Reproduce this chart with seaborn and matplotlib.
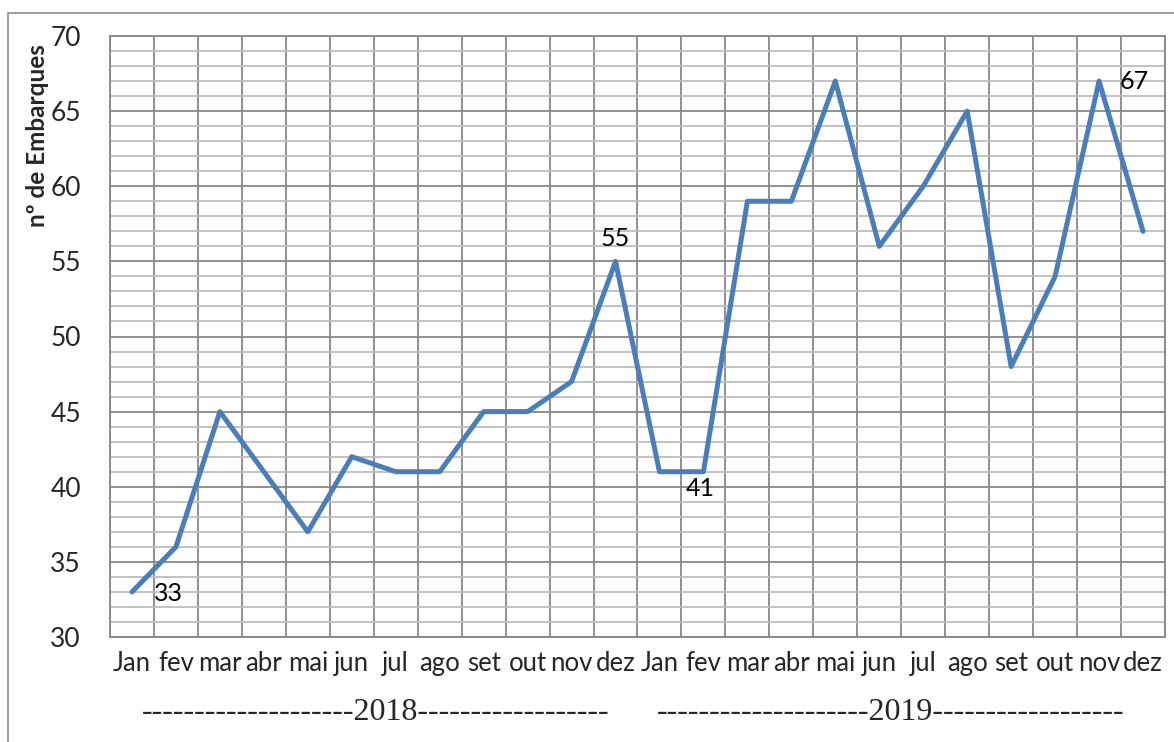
import matplotlib
matplotlib.use("Agg")
import matplotlib.pyplot as plt
from matplotlib.patches import Rectangle
from matplotlib.ticker import MultipleLocator
import seaborn as sns
import pandas as pd
import numpy as np

# --- data ---
months = ['Jan', 'fev', 'mar', 'abr', 'mai', 'jun', 'jul', 'ago', 'set', 'out', 'nov', 'dez']
embarques_2018 = [33, 36, 45, 41, 37, 42, 41, 41, 45, 45, 47, 55]
embarques_2019 = [41, 41, 59, 59, 67, 56, 60, 65, 48, 54, 67, 57]
year_labels = ['--------------------2018------------------', '--------------------2019------------------']
# (index in the series, text offset in pixels)
point_labels = [(0, (36, -2)), (11, (0, 23)), (13, (-3, -17)), (22, (35, 0))]

LINE_BLUE = "#4A7EBB"
MAJOR_GREY = "#878787"
MINOR_GREY = "#BDBDBD"

df = pd.DataFrame({
    'idx': np.arange(len(months) * 2),
    'mes': months + months,
    'valor': embarques_2018 + embarques_2019,
})

sns.set_theme(style="white")
plt.rcParams['font.family'] = ['Lato', 'DejaVu Sans']

fig = plt.figure(figsize=(11.74, 7.42), dpi=100)
ax = fig.add_axes([110 / 1174, 1 - 637 / 742, 1055 / 1174, 601 / 742])

# grid first so the line sits on top
ax.set_xlim(-0.5, len(df) - 0.5)
ax.set_ylim(30, 70)
ax.yaxis.set_major_locator(MultipleLocator(5))
ax.yaxis.set_minor_locator(MultipleLocator(1))
ax.set_xticks(df['idx'])
ax.set_xticks(np.arange(-0.5, len(df), 1), minor=True)
ax.grid(which='major', axis='y', color=MAJOR_GREY, lw=1.3)
ax.grid(which='minor', axis='y', color=MINOR_GREY, lw=1.3)
ax.grid(which='minor', axis='x', color=MAJOR_GREY, lw=1.3)
ax.grid(which='major', axis='x', visible=False)
ax.set_axisbelow(True)

sns.lineplot(data=df, x='idx', y='valor', ax=ax, color=LINE_BLUE, lw=3.6,
             solid_joinstyle='round', solid_capstyle='round', zorder=3)

for i, off in point_labels:
    ax.annotate(str(df['valor'][i]), (df['idx'][i], df['valor'][i]), xytext=off,
                textcoords='offset pixels', ha='center', va='center', fontsize=18,
                color='black', zorder=4)

ax.set_xticklabels(df['mes'], fontsize=18.5)
ax.tick_params(axis='y', which='both', length=0, labelsize=19, pad=21)
ax.tick_params(axis='x', which='both', length=0, pad=10)
ax.set_xlabel('')
ax.set_ylabel('')
for s in ax.spines.values():
    s.set_color(MAJOR_GREY)
    s.set_linewidth(1.3)

fig.text(38 / 1174, 1 - 136 / 742, 'nº de Embarques', rotation=90, ha='center',
         va='center', fontsize=17.5, fontweight='bold')

fig.text(376 / 1174, 1 - 713 / 742, year_labels[0], ha='center', va='center',
         fontsize=23, family='Liberation Serif')
fig.text(891 / 1174, 1 - 713 / 742, year_labels[1], ha='center', va='center',
         fontsize=23, family='Liberation Serif')

# outer chart border
fig.patches.append(Rectangle((8 / 1174, -0.05), 1.2, 1 - 13 / 742 + 0.05,
                             transform=fig.transFigure, fill=False,
                             edgecolor='#8C8C8C', lw=1.2))

fig.savefig("out.png", dpi=100)
